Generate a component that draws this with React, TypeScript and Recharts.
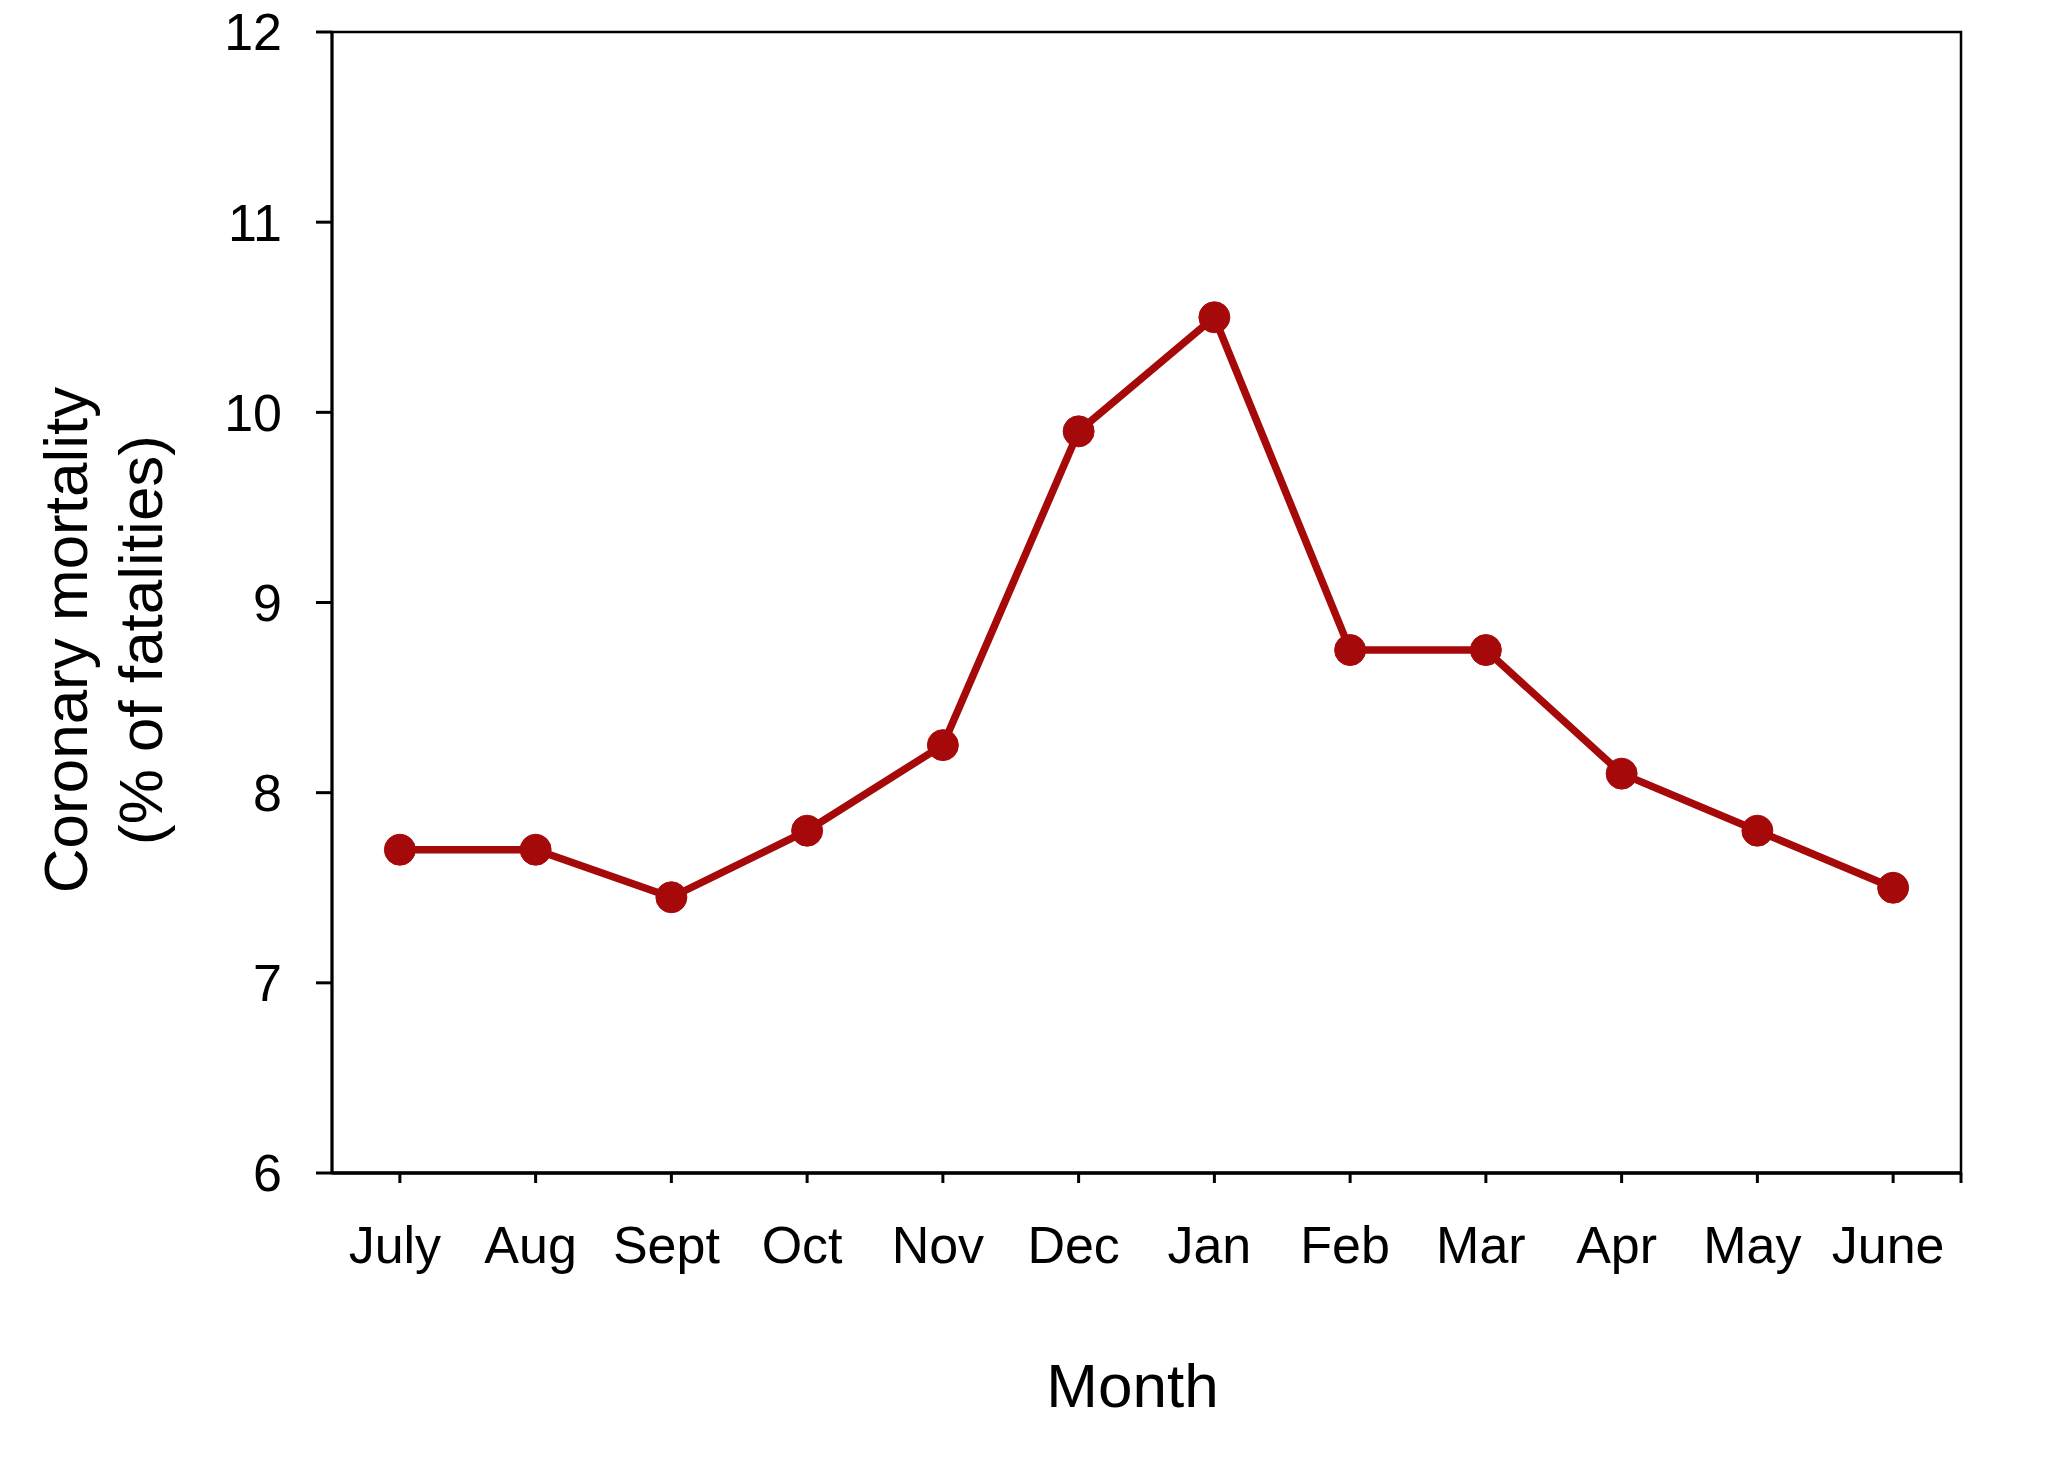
import { Label, Line, LineChart, ReferenceArea, XAxis, YAxis } from "recharts";

const months = ["July", "Aug", "Sept", "Oct", "Nov", "Dec", "Jan", "Feb", "Mar", "Apr", "May", "June"];
const mortality = [7.7, 7.7, 7.45, 7.8, 8.25, 9.9, 10.5, 8.75, 8.75, 8.1, 7.8, 7.5];
const yTicks = [6, 7, 8, 9, 10, 11, 12];

const data = months.map((month, i) => ({ month, value: mortality[i] }));

const FONT = '"Liberation Sans", Arial, Helvetica, sans-serif';
const RED = "#a60909";

function MonthTick(props: any) {
  const { x, y, payload, index } = props;
  const last = index === months.length - 1;
  const edge = x + (payload?.offset ?? 0);
  return (
    <g>
      <text
        x={x}
        y={y}
        dx={-5}
        dy="0.71em"
        textAnchor="middle"
        fontSize={52}
        fontFamily={FONT}
        fill="#000"
      >
        {payload.value}
      </text>
      {last && (
        <line x1={edge} x2={edge} y1={y - 53} y2={y - 43} stroke="#000" strokeWidth={3} />
      )}
    </g>
  );
}

function YTitle() {
  const cy = 640;
  return (
    <g fontFamily={FONT} fontSize={62} fill="#000">
      <text x={87} y={cy} textAnchor="middle" transform={`rotate(-90, 87, ${cy})`}>
        Coronary mortality
      </text>
      <text x={162} y={cy} textAnchor="middle" transform={`rotate(-90, 162, ${cy})`}>
        (% of fatalities)
      </text>
    </g>
  );
}

function XTitle(props: any) {
  const { viewBox } = props;
  const cx = viewBox.x + viewBox.width / 2 - 14;
  return (
    <text x={cx} y={1407} textAnchor="middle" fontSize={62} fontFamily={FONT} fill="#000">
      Month
    </text>
  );
}

export default function App() {
  return (
    <div style={{ position: "absolute", left: 0, top: 0, width: 2048, height: 1461, background: "#fff" }}>
      <LineChart
        width={2048}
        height={1461}
        data={data}
        margin={{ top: 32, right: 87, left: 0, bottom: 0 }}
      >
        <ReferenceArea
          y1={6}
          y2={12}
          fill="none"
          stroke="#000"
          strokeWidth={2.5}
          ifOverflow="visible"
        />
        <XAxis
          dataKey="month"
          scale="band"
          height={288}
          interval={0}
          tickSize={10}
          tickMargin={43}
          tick={<MonthTick />}
          axisLine={{ stroke: "#000", strokeWidth: 3.5 }}
          tickLine={{ stroke: "#000", strokeWidth: 3 }}
        >
          <Label content={<XTitle />} />
        </XAxis>
        <YAxis
          type="number"
          domain={[6, 12]}
          ticks={yTicks}
          interval={0}
          width={332}
          tickSize={16}
          tickMargin={34}
          tick={{ fontSize: 52, fontFamily: FONT, fill: "#000" }}
          axisLine={{ stroke: "#000", strokeWidth: 3 }}
          tickLine={{ stroke: "#000", strokeWidth: 3 }}
        >
          <Label content={<YTitle />} />
        </YAxis>
        <Line
          type="linear"
          dataKey="value"
          stroke={RED}
          strokeWidth={7.5}
          dot={{ r: 15.5, fill: RED, stroke: RED, strokeWidth: 1 }}
          activeDot={false}
          isAnimationActive={false}
        />
      </LineChart>
    </div>
  );
}
